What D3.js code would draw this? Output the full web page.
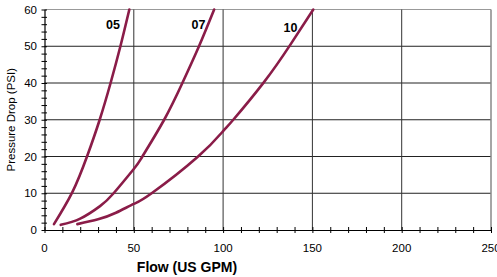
<!DOCTYPE html>
<html>
<head>
<meta charset="utf-8">
<script src="https://cdn.jsdelivr.net/npm/d3@7"></script>
<style>
  body { margin: 0; padding: 0; background: #fff; }
  svg { display: block; font-family: 'Liberation Sans', Arial, sans-serif; }
</style>
</head>
<body>
<div id="main"></div>
<script>
// flow (US GPM) vs pressure drop (PSI)
const series05 = [[5.3, 1.6], [15.6, 10.3], [23.8, 20], [30.9, 30], [37, 40], [42.5, 50], [47.5, 60]];
const series07 = [[9.1, 1.4], [20, 3.1], [31.1, 6.5], [38.7, 10], [50, 16.6], [54.8, 20], [67, 30], [77.2, 40], [86.5, 50], [95, 60]];
const series10 = [[18.4, 1.6], [30, 2.9], [40, 4.7], [50, 7.1], [60, 10], [86, 20], [100, 26.9], [105.7, 30], [123, 40.3], [137.5, 50.3], [150.5, 60]];
const seriesNames = ['05', '07', '10'];
const labelPos = [[113, 29], [198.5, 29], [290.5, 31.5]];
const xTicks = [0, 50, 100, 150, 200, 250];
const yTicks = [0, 10, 20, 30, 40, 50, 60];

const WIDTH = 497, HEIGHT = 277;
const PLOT = {left: 44.5, right: 491, top: 9.5, bottom: 230};
const LINECOLOR = '#8a1c48';

const svg = d3.select('#main').append('svg')
    .attr('width', WIDTH)
    .attr('height', HEIGHT);

const scaleX = d3.scaleLinear().domain([0, 250]).range([PLOT.left, PLOT.right]);
const scaleY = d3.scaleLinear().domain([0, 60]).range([PLOT.bottom, PLOT.top]);

// grid
svg.append('g').selectAll('line').data(yTicks.slice(1)).enter().append('line')
    .attr('x1', PLOT.left).attr('x2', PLOT.right)
    .attr('y1', (d) => scaleY(d)).attr('y2', (d) => scaleY(d))
    .attr('stroke', (d) => d === 60 ? '#999' : '#222')
    .attr('stroke-width', 1);
svg.append('g').selectAll('line').data(xTicks.slice(1)).enter().append('line')
    .attr('x1', (d) => scaleX(d)).attr('x2', (d) => scaleX(d))
    .attr('y1', PLOT.top).attr('y2', PLOT.bottom)
    .attr('stroke', (d) => d === 250 ? '#888' : '#333')
    .attr('stroke-width', (d) => d === 250 ? 1.5 : 1);

// axes with crossing minor ticks
const axisX = d3.axisBottom(scaleX).tickValues(d3.range(0, 251, 10)).tickSize(0).tickFormat('');
const gx = svg.append('g').attr('transform', `translate(0, ${PLOT.bottom})`).call(axisX);
gx.select('.domain').attr('stroke', '#000').attr('stroke-width', 1.2);
gx.selectAll('.tick').append('line').attr('y1', -3).attr('y2', 3).attr('stroke', '#000');
svg.append('g').selectAll('text').data(xTicks).enter().append('text')
    .attr('x', (d) => scaleX(d))
    .attr('y', 252)
    .attr('text-anchor', 'middle')
    .attr('font-size', 11.5)
    .text((d) => d);

const axisY = d3.axisLeft(scaleY).tickValues(d3.range(0, 61, 2)).tickSize(0).tickFormat('');
const gy = svg.append('g').attr('transform', `translate(${PLOT.left}, 0)`).call(axisY);
gy.select('.domain').attr('stroke', '#000').attr('stroke-width', 1.2);
gy.selectAll('.tick').append('line').attr('x1', -3).attr('x2', 2.5).attr('stroke', '#000');
svg.append('g').selectAll('text').data(yTicks).enter().append('text')
    .attr('x', 37)
    .attr('y', (d) => scaleY(d) + 4)
    .attr('text-anchor', 'end')
    .attr('font-size', 11.5)
    .text((d) => d);

// titles
svg.append('text')
    .attr('x', 187)
    .attr('y', 272)
    .attr('text-anchor', 'middle')
    .attr('font-size', 14)
    .attr('font-weight', 'bold')
    .text('Flow (US GPM)');
svg.append('text')
    .attr('transform', `translate(15, ${(PLOT.top + PLOT.bottom) / 2}) rotate(-90)`)
    .attr('text-anchor', 'middle')
    .attr('font-size', 11.5)
    .text('Pressure Drop (PSI)');

// curves
const line = d3.line()
    .x((d) => scaleX(d[0]))
    .y((d) => scaleY(d[1]))
    .curve(d3.curveNatural);
[series05, series07, series10].forEach((s) => {
    svg.append('path')
        .attr('d', line(s))
        .attr('fill', 'none')
        .attr('stroke', LINECOLOR)
        .attr('stroke-width', 2.6)
        .attr('stroke-linecap', 'round');
});
svg.append('g').selectAll('text').data(seriesNames).enter().append('text')
    .attr('x', (d, i) => labelPos[i][0])
    .attr('y', (d, i) => labelPos[i][1])
    .attr('text-anchor', 'middle')
    .attr('font-size', 12.5)
    .attr('font-weight', 'bold')
    .text((d) => d);
</script>
</body>
</html>
